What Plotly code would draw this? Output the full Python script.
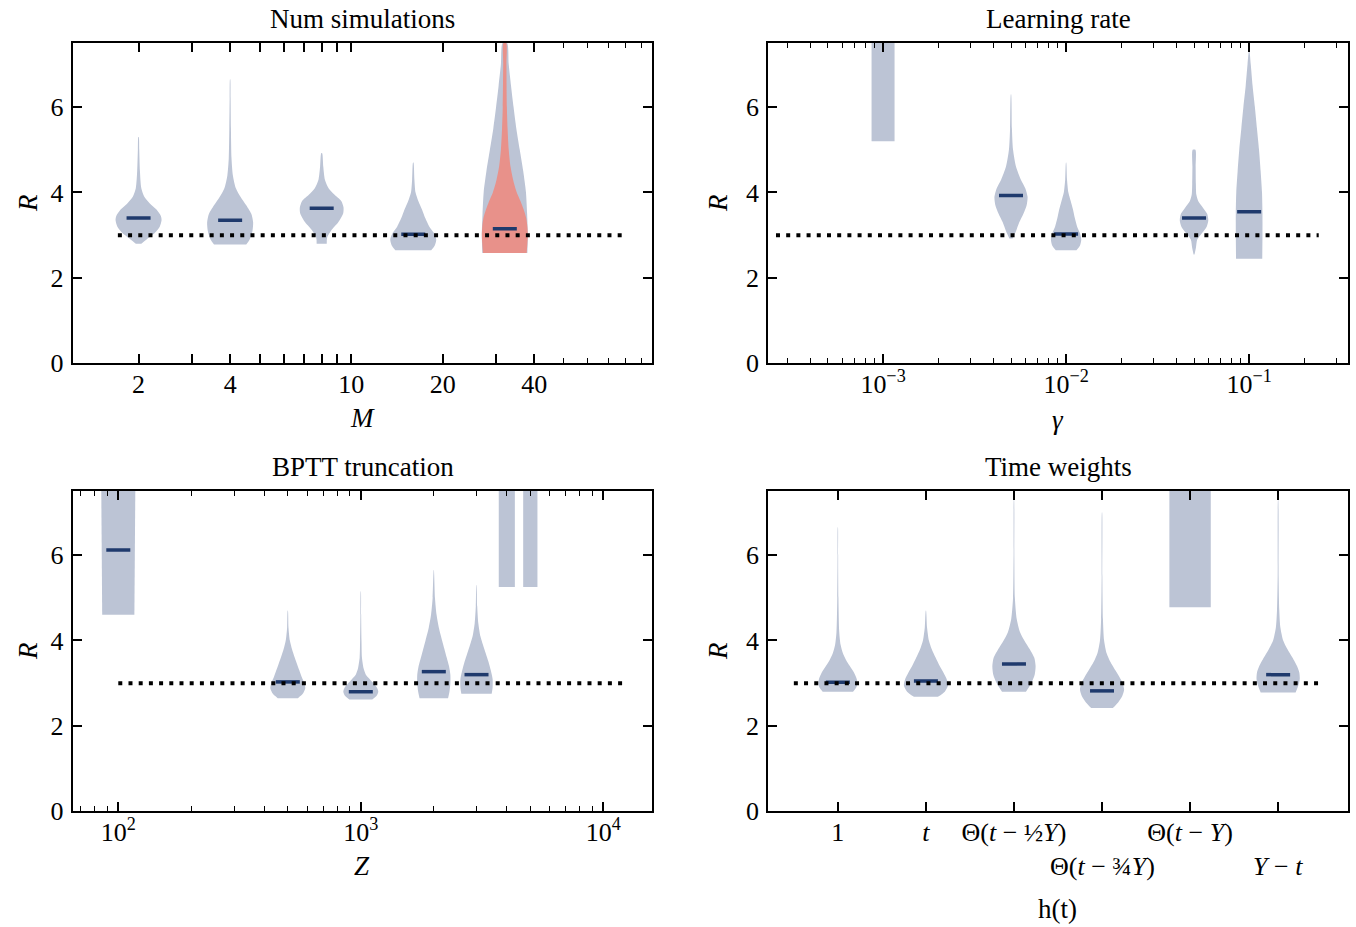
import numpy as np
import plotly.graph_objects as go

W, H = 1356, 927

# ---------------- data ----------------
R_TARGET = 3.0

# Num simulations (M)
M_VALUES = [2, 4, 8, 16, 32]
M_MEDIANS = [3.40, 3.35, 3.63, 3.02, None]
M_PROFILE_R = [
    [2.8, 2.9, 3.05, 3.2, 3.35, 3.45, 3.6, 3.75, 3.9, 4.1, 4.5, 5.0, 5.3],
    [2.78, 2.9, 3.1, 3.3, 3.5, 3.7, 3.9, 4.1, 4.4, 4.8, 5.5, 6.2, 6.65],
    [2.8, 2.95, 3.1, 3.3, 3.5, 3.65, 3.8, 3.95, 4.1, 4.3, 4.6, 4.92],
    [2.65, 2.75, 2.9, 3.05, 3.2, 3.4, 3.6, 3.8, 4.0, 4.3, 4.7],
    [2.58, 3.0, 3.5, 4.0, 4.5, 5.0, 5.5, 6.0, 6.5, 7.0, 7.5],
]
M_PROFILE_W = [
    [0.12, 0.35, 0.7, 0.92, 1.0, 0.97, 0.78, 0.48, 0.25, 0.12, 0.06, 0.03, 0.01],
    [0.7, 0.85, 0.97, 1.0, 0.92, 0.7, 0.45, 0.25, 0.12, 0.06, 0.035, 0.02, 0.005],
    [0.22, 0.24, 0.4, 0.72, 0.93, 0.95, 0.85, 0.55, 0.3, 0.14, 0.07, 0.02],
    [0.78, 0.93, 1.0, 0.9, 0.7, 0.52, 0.38, 0.22, 0.1, 0.05, 0.01],
    [0.98, 1.0, 0.97, 0.92, 0.8, 0.65, 0.5, 0.38, 0.27, 0.17, 0.1],
]
# highlighted run at M = 32
M_HIGHLIGHT = 32
M_HIGHLIGHT_MEDIAN = 3.15
M_HIGHLIGHT_R = [2.58, 2.8, 3.0, 3.2, 3.4, 3.6, 3.8, 4.0, 4.3, 4.6, 5.0, 5.5, 6.0, 7.0, 7.5]
M_HIGHLIGHT_W = [0.95, 0.98, 1.0, 0.98, 0.93, 0.82, 0.68, 0.52, 0.36, 0.25, 0.17, 0.12, 0.09, 0.07, 0.06]

# Learning rate (gamma)
G_VALUES = [1e-3, 5e-3, 1e-2, 5e-2, 1e-1]
G_MEDIANS = [None, 3.93, 3.03, 3.40, 3.55]
G_PROFILE_R = [
    [5.2, 9.0],
    [2.92, 3.1, 3.3, 3.5, 3.7, 3.9, 4.1, 4.3, 4.6, 5.0, 5.5, 6.3],
    [2.65, 2.75, 2.9, 3.05, 3.2, 3.4, 3.6, 3.8, 4.0, 4.3, 4.7],
    [2.55, 2.7, 2.9, 3.05, 3.2, 3.35, 3.5, 3.65, 3.8, 3.95, 4.2, 4.6, 5.0],
    [2.45, 3.0, 3.5, 4.0, 4.5, 5.0, 5.5, 6.0, 6.5, 7.0, 7.3],
]
G_PROFILE_W = [
    [0.5, 0.5],
    [0.07, 0.22, 0.36, 0.54, 0.68, 0.72, 0.62, 0.43, 0.22, 0.09, 0.04, 0.005],
    [0.45, 0.6, 0.66, 0.6, 0.48, 0.38, 0.3, 0.2, 0.1, 0.04, 0.005],
    [0.02, 0.08, 0.14, 0.35, 0.55, 0.62, 0.57, 0.38, 0.18, 0.1, 0.08, 0.07, 0.06],
    [0.57, 0.58, 0.58, 0.56, 0.5, 0.43, 0.34, 0.25, 0.15, 0.07, 0.01],
]

# BPTT truncation (Z)
Z_VALUES = [100, 500, 1000, 2000, 3000, 4000, 5000]
Z_MEDIANS = [6.12, 3.03, 2.80, 3.27, 3.20, None, None]
Z_PROFILE_R = [
    [4.6, 9.0],
    [2.65, 2.75, 2.88, 3.0, 3.15, 3.3, 3.45, 3.6, 3.8, 4.0, 4.3, 4.7],
    [2.62, 2.7, 2.8, 2.9, 3.0, 3.1, 3.2, 3.35, 3.6, 4.0, 4.6, 5.15],
    [2.65, 2.8, 3.0, 3.2, 3.4, 3.6, 3.8, 4.0, 4.3, 4.6, 5.0, 5.65],
    [2.75, 2.9, 3.1, 3.3, 3.5, 3.7, 3.9, 4.1, 4.4, 4.8, 5.3],
    [5.25, 9.0],
    [5.25, 9.0],
]
Z_PROFILE_W = [
    [0.7, 0.76],
    [0.44, 0.65, 0.76, 0.72, 0.6, 0.5, 0.4, 0.3, 0.18, 0.09, 0.03, 0.005],
    [0.5, 0.68, 0.76, 0.7, 0.55, 0.38, 0.22, 0.12, 0.05, 0.03, 0.015, 0.003],
    [0.62, 0.68, 0.72, 0.72, 0.66, 0.56, 0.46, 0.36, 0.22, 0.12, 0.05, 0.003],
    [0.66, 0.7, 0.7, 0.62, 0.52, 0.4, 0.28, 0.17, 0.08, 0.03, 0.003],
    [0.35, 0.35],
    [0.31, 0.31],
]

# Time weights h(t): labels alternate between two rows under the axis
H_LABELS = [
    "1",
    "<i>t</i>",
    "Θ(<i>t</i> − ½<i>Y</i>)",
    "Θ(<i>t</i> − ¾<i>Y</i>)",
    "Θ(<i>t</i> − <i>Y</i>)",
    "<i>Y</i> − <i>t</i>",
]
H_LABEL_ROW = [0, 0, 0, 1, 0, 1]
H_MEDIANS = [3.02, 3.05, 3.45, 2.82, None, 3.20]
H_PROFILE_R = [
    [2.8, 2.9, 3.0, 3.1, 3.25, 3.4, 3.55, 3.7, 3.9, 4.2, 5.0, 6.0, 6.65],
    [2.68, 2.8, 2.95, 3.1, 3.25, 3.4, 3.6, 3.8, 4.0, 4.3, 4.7],
    [2.8, 3.0, 3.2, 3.4, 3.6, 3.8, 4.0, 4.2, 4.5, 5.0, 6.0, 7.3],
    [2.42, 2.55, 2.7, 2.85, 3.0, 3.15, 3.3, 3.5, 3.7, 4.0, 4.5, 5.5, 7.0],
    [4.78, 9.0],
    [2.78, 2.95, 3.1, 3.25, 3.4, 3.6, 3.8, 4.0, 4.3, 4.7, 5.5, 7.3],
]
H_PROFILE_W = [
    [0.66, 0.8, 0.85, 0.82, 0.7, 0.52, 0.35, 0.22, 0.12, 0.06, 0.025, 0.012, 0.003],
    [0.52, 0.82, 0.96, 0.9, 0.76, 0.6, 0.42, 0.25, 0.13, 0.05, 0.005],
    [0.52, 0.75, 0.9, 0.94, 0.88, 0.68, 0.45, 0.26, 0.12, 0.04, 0.015, 0.003],
    [0.47, 0.7, 0.88, 0.96, 0.9, 0.75, 0.58, 0.36, 0.2, 0.09, 0.04, 0.015, 0.003],
    [0.9, 0.9],
    [0.76, 0.88, 0.94, 0.92, 0.82, 0.62, 0.4, 0.22, 0.1, 0.05, 0.02, 0.003],
]

# ---------------- style ----------------
FONT = "Liberation Serif"
VIOLIN = "#bcc4d5"
HIGHLIGHT = "#e8918a"
MEDIAN = "#1f3a6d"
HALF_PX = 23.0      # half width of a full-density violin, in pixels
MEDIAN_HALF_PX = 12.0
TICK_SIZE = 26

XDOM = {1: (72.7, 652.3), 2: (768.3, 1347.7), 3: (72.7, 652.3), 4: (768.3, 1347.7)}
YDOM = {1: (43.0, 363.3), 2: (43.0, 363.3), 3: (491.0, 811.3), 4: (491.0, 811.3)}
XRANGE = {1: [0.0845, 1.990], 2: [-3.627, -0.4615], 3: [1.812, 4.202], 4: [-0.79, 5.79]}
LOGX = {1: True, 2: True, 3: True, 4: False}


def units_per_px(k):
    lo, hi = XDOM[k]
    return (XRANGE[k][1] - XRANGE[k][0]) / (hi - lo)


def spread(k, center, half):
    """x positions at +/- half (axis units along the panel's scale)."""
    half = np.asarray(half, dtype=float)
    if LOGX[k]:
        return center * 10 ** (-half), center * 10 ** half
    return center - half, center + half


fig = go.Figure()


def add_violin(k, center, levels, dens, color):
    r = np.asarray(levels, dtype=float)
    half = np.asarray(dens, dtype=float) * HALF_PX * units_per_px(k)
    xl, xr = spread(k, center, half)
    xs = list(xr) + list(xl[::-1])
    ys = list(r) + list(r[::-1])
    shape = "spline" if len(r) > 2 else "linear"
    fig.add_trace(go.Scatter(
        x=xs, y=ys, xaxis=f"x{k}", yaxis=f"y{k}", mode="lines",
        fill="toself", fillcolor=color,
        line=dict(width=0, color=color, shape=shape, smoothing=0.7),
        hoverinfo="skip", showlegend=False))


def add_median(k, center, value):
    if value is None:
        return
    half = MEDIAN_HALF_PX * units_per_px(k)
    xl, xr = spread(k, center, half)
    fig.add_trace(go.Scatter(
        x=[float(xl), float(xr)], y=[value, value], xaxis=f"x{k}", yaxis=f"y{k}",
        mode="lines", line=dict(color=MEDIAN, width=3.5),
        hoverinfo="skip", showlegend=False))


def add_target(k, x0, x1):
    fig.add_trace(go.Scatter(
        x=[x0, x1], y=[R_TARGET, R_TARGET], xaxis=f"x{k}", yaxis=f"y{k}",
        mode="lines", line=dict(color="black", width=4, dash="4px,6.2px"),
        hoverinfo="skip", showlegend=False))


# panel 1
for c, r, w in zip(M_VALUES, M_PROFILE_R, M_PROFILE_W):
    add_violin(1, c, r, w, VIOLIN)
add_violin(1, M_HIGHLIGHT, M_HIGHLIGHT_R, M_HIGHLIGHT_W, HIGHLIGHT)
for c, m in zip(M_VALUES, M_MEDIANS):
    add_median(1, c, m)
add_median(1, M_HIGHLIGHT, M_HIGHLIGHT_MEDIAN)
add_target(1, 1.71, 80)

# panel 2
for c, r, w in zip(G_VALUES, G_PROFILE_R, G_PROFILE_W):
    add_violin(2, c, r, w, VIOLIN)
for c, m in zip(G_VALUES, G_MEDIANS):
    add_median(2, c, m)
add_target(2, 2.6e-4, 0.24)

# panel 3
for c, r, w in zip(Z_VALUES, Z_PROFILE_R, Z_PROFILE_W):
    add_violin(3, c, r, w, VIOLIN)
for c, m in zip(Z_VALUES, Z_MEDIANS):
    add_median(3, c, m)
add_target(3, 100, 12000)

# panel 4
H_POS = list(range(len(H_LABELS)))
for c, r, w in zip(H_POS, H_PROFILE_R, H_PROFILE_W):
    add_violin(4, c, r, w, VIOLIN)
for c, m in zip(H_POS, H_MEDIANS):
    add_median(4, c, m)
add_target(4, -0.5, 5.5)

# ---------------- axes ----------------
tickfont = dict(family=FONT, size=TICK_SIZE, color="black")
common = dict(showline=True, linecolor="black", linewidth=2, mirror="allticks",
              ticks="inside", ticklen=9, tickwidth=1.5, tickcolor="black",
              showgrid=False, zeroline=False, tickfont=tickfont,
              automargin=False, tickangle=0)


def minor_ticks(vals, length):
    return dict(tickmode="array", tickvals=vals, ticks="inside",
                ticklen=length, tickwidth=1.5 if length > 6 else 1.3, tickcolor="black")


row0 = [i for i in H_POS if H_LABEL_ROW[i] == 0]
row1 = [i for i in H_POS if H_LABEL_ROW[i] == 1]

x_ticks = {
    1: dict(tickvals=[2, 3, 4, 5, 6, 7, 8, 9, 10, 20, 30, 40],
            ticktext=["2", "", "4", "", "", "", "", "", "10", "20", "", "40"],
            minor=minor_ticks([50, 60, 70, 80, 90], 5)),
    2: dict(tickvals=[1e-3, 1e-2, 1e-1],
            ticktext=["10<sup>−3</sup>", "10<sup>−2</sup>", "10<sup>−1</sup>"],
            minor=minor_ticks([m * 10.0 ** e for e in (-4, -3, -2, -1) for m in range(2, 10)], 5)),
    3: dict(tickvals=[100, 1000, 10000],
            ticktext=["10<sup>2</sup>", "10<sup>3</sup>", "10<sup>4</sup>"],
            minor=minor_ticks([m * 10.0 ** e for e in (1, 2, 3, 4) for m in range(2, 10)], 5)),
    4: dict(tickvals=row0, ticktext=[H_LABELS[i] for i in row0],
            minor=minor_ticks(row1, 9)),
}

layout = {}
for k in (1, 2, 3, 4):
    xd = [XDOM[k][0] / W, XDOM[k][1] / W]
    yd = [1 - YDOM[k][1] / H, 1 - YDOM[k][0] / H]
    t = x_ticks[k]
    xa = dict(common, domain=xd, anchor=f"y{k}", range=XRANGE[k],
              type="log" if LOGX[k] else "linear",
              tickmode="array", tickvals=t["tickvals"], ticktext=t["ticktext"],
              ticklabelstandoff=-4, minor=t["minor"])
    ya = dict(common, domain=yd, anchor=f"x{k}", range=[0, 7.5],
              tickmode="array", tickvals=[0, 2, 4, 6], ticklabelstandoff=2)
    layout[f"xaxis{k}"] = xa
    layout[f"yaxis{k}"] = ya

fig.update_layout(**layout)

# ---------------- titles and axis labels ----------------
def note(text, xpx, ypx, size=27, angle=0):
    fig.add_annotation(text=text, x=xpx / W, y=1 - ypx / H, xref="paper", yref="paper",
                       showarrow=False, textangle=angle, xanchor="center", yanchor="middle",
                       font=dict(family=FONT, size=size, color="black"))

note("Num simulations", 362, 19)
note("Learning rate", 1058, 19)
note("BPTT truncation", 363, 467)
note("Time weights", 1058, 467)
note("<i>M</i>", 362, 418)
note("<i>γ</i>", 1058, 420)
note("<i>Z</i>", 362, 866)
note("h(t)", 1057, 909)
for xp, yp in ((28, 203), (718, 203), (28, 651), (718, 651)):
    note("<i>R</i>", xp, yp, angle=-90)

# second row of h(t) tick labels
for i in row1:
    fig.add_annotation(text=H_LABELS[i], x=i, xref="x4", y=1 - 866 / H, yref="paper",
                       showarrow=False, xanchor="center", yanchor="middle",
                       font=dict(family=FONT, size=TICK_SIZE, color="black"))

fig.update_layout(width=W, height=H, margin=dict(l=0, r=0, t=0, b=0),
                  paper_bgcolor="white", plot_bgcolor="white", autosize=False)

fig.write_html("out.html")
